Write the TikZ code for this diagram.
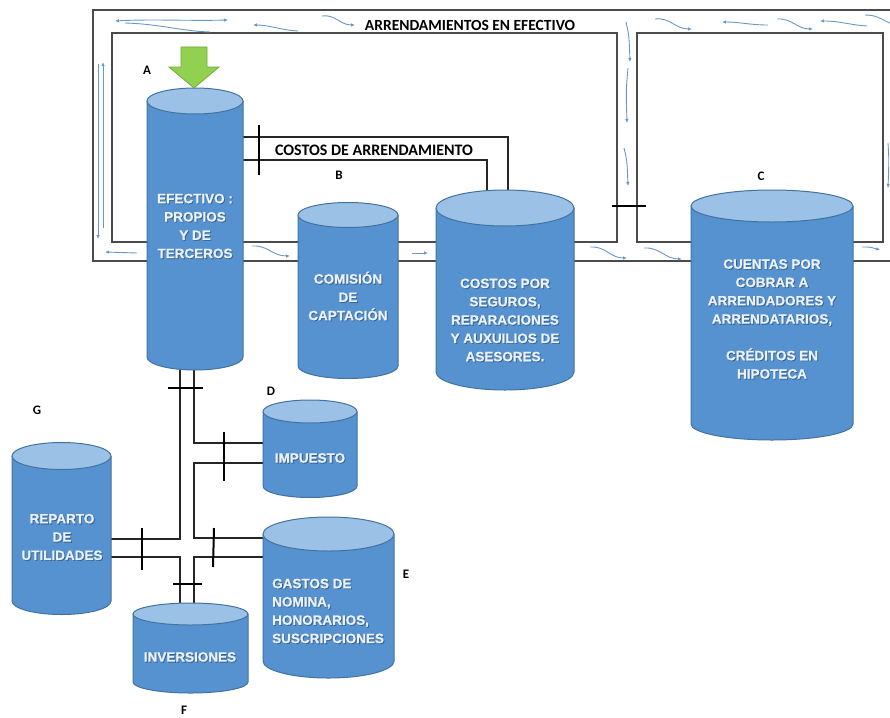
\documentclass[tikz,border=0pt]{standalone}
\usepackage{fontspec}
\newfontfamily\arialbf{Liberation Sans Bold}[FakeBold=0.8]
\newfontfamily\calf{Carlito}[BoldFont={Carlito Bold}]
\usetikzlibrary{arrows.meta}
\definecolor{cylbodyc}{RGB}{86,146,208}
\definecolor{cyltopc}{RGB}{155,194,230}
\definecolor{cyledge}{RGB}{66,114,160}
\definecolor{flowc}{RGB}{105,152,200}
\definecolor{framec}{RGB}{75,75,75}
\definecolor{greenf}{RGB}{146,208,80}
\definecolor{greend}{RGB}{112,170,62}
\definecolor{txtc}{RGB}{235,242,250}
\definecolor{shadc}{RGB}{35,65,105}
\newcommand\mycyl[6]{%
 \pgfmathsetmacro\cyx{(#2+#3)/2}%
 \pgfmathsetmacro\cyr{(#3-#2)/2}%
 \pgfmathsetmacro\cyw{#3-#2}%
 \pgfmathsetmacro\cyh{#5-#4+2*#6}%
 \pgfmathsetmacro\cym{(#4+#5)/2}%
 \fill[cylbodyc] (#2,#4) -- (#2,#5) arc[start angle=180,end angle=360,x radius=\cyr pt,y radius=#6 pt] -- (#3,#4) -- cycle;
 \draw[cyledge,line width=1pt] (#2,#4) -- (#2,#5) arc[start angle=180,end angle=360,x radius=\cyr pt,y radius=#6 pt] -- (#3,#4);
 \filldraw[fill=cyltopc,draw=cyledge,line width=1pt] (\cyx,#4) ellipse[x radius=\cyr pt,y radius=#6 pt];
 \node[inner sep=0pt,outer sep=0pt,minimum width=\cyw pt,minimum height=\cyh pt] (#1) at (\cyx,\cym) {};
}
% text with a soft shadow: name, options, x, y, text
\newcommand\shtext[5]{%
 \node[ctext,#2,text=shadc,opacity=0.55] at (#3+0.9,#4+0.9) {#5};
 \node[ctext,#2] (#1) at (#3,#4) {#5};
}
\begin{document}
\begin{tikzpicture}[x=1pt,y=-1pt,
  frame/.style={draw=framec,line width=1.1pt},
  pipe/.style={draw=black!85,line width=1.2pt},
  tick/.style={draw=black,line width=2pt},
  flow/.style={draw=flowc,line width=0.9pt,-{Latex[length=4pt,width=3.5pt]}},
  flowline/.style={draw=flowc,line width=0.9pt},
  ctext/.style={font=\arialbf\fontsize{13.5}{18.3}\selectfont,text=txtc,align=center,inner sep=0pt},
  lab/.style={font=\calf\bfseries\fontsize{13}{15}\selectfont,inner sep=0pt},
  ttl/.style={font=\calf\bfseries\fontsize{15.5}{17}\selectfont,inner sep=0pt}]
\useasboundingbox (0,0) rectangle (890,717);
\clip (0,0) rectangle (890,717);
% frames
\draw[frame] (895,10) -- (93,10) -- (93,261) -- (895,261);
\draw[frame] (112,33) rectangle (617,242);
\draw[frame] (637,33) rectangle (883,242);
% flow arrows top channel
\draw[flowline,{Latex[length=4pt,width=3.5pt]}-{Latex[length=4pt,width=3.5pt]}] (115,21) .. controls (150,19) and (190,21) .. (228,20);
\draw[flowline] (125,23) .. controls (160,24) and (180,31) .. (210,32);
\draw[flow] (298,31) .. controls (280,30) and (270,25) .. (253,25);
\draw[flow] (322,16) .. controls (335,14) and (340,25) .. (355,25);
\draw[flow] (655,19) .. controls (670,17) and (675,29) .. (692,29);
\draw[flow] (768,25) .. controls (750,25) and (740,22) .. (722,22);
\draw[flow] (777,19) .. controls (792,18) and (797,29) .. (813,29);
\draw[flow] (867,26) .. controls (850,25) and (840,21) .. (820,21);
\draw[flowline] (865,15) .. controls (878,15) and (882,20) .. (892,24);
% vertical channel
\draw[flow] (626,22) .. controls (629,35) .. (630,62);
\draw[flow] (628,68) .. controls (626,90) .. (627,123);
\draw[flow] (624,148) .. controls (627,160) .. (628,186);
% left channel
\draw[flow] (103,228) -- (103,62);
\draw[flow] (98,64) -- (98,239);
\draw[flow] (137,253) -- (105,252);
% bottom channel
\draw[flow] (252,246) .. controls (268,245) and (272,256) .. (290,256);
\draw[flow] (412,253) -- (428,253);
\draw[flow] (590,247) .. controls (606,246) and (610,258) .. (627,258);
\draw[flow] (644,248) .. controls (660,247) and (665,259) .. (682,259);
\draw[flow] (862,247) .. controls (870,247) .. (880,250);
% right channel
\draw[flow] (888,143) .. controls (889,160) .. (888,188);
% invisible anchors for cylinders (drawn for real after the pipes)
\begin{scope}[opacity=0]
\mycyl{A}{147}{243}{101}{357}{13}
\mycyl{Com}{298}{398}{215}{366}{12.5}
\mycyl{Cst}{436}{574}{208}{372}{18}
\mycyl{C}{691}{853}{206}{424}{16}
\mycyl{D}{263}{357}{411.5}{486}{11.5}
\mycyl{E}{263}{394}{534}{661}{17}
\mycyl{G}{12}{111}{456}{601}{13.5}
\mycyl{F}{133}{248}{614}{682}{11}
\end{scope}
% pipes
\draw[pipe] (A.east |- 0,137) -| ([xshift=3pt]Cst.north);
\draw[pipe] (A.east |- 0,160) -| ([xshift=-18pt]Cst.north);
\draw[pipe] ([xshift=-15pt]A.south) |- (G.east |- 0,539);
\draw[pipe] (G.east |- 0,557) -| ([xshift=-10.5pt]F.north);
\draw[pipe] ([xshift=-1pt]A.south) |- (D.west |- 0,443);
\coordinate (j1) at (194,538);
\draw[pipe] (D.west |- 0,463) -| (j1) -- (E.west |- j1);
\draw[pipe] (E.west |- 0,557) -| ([xshift=3.5pt]F.north);
% ticks
\draw[tick] (259,125) -- (259,175);
\draw[tick] (168,388) -- (203,388);
\draw[tick] (224,432) -- (224,481);
\draw[tick] (142,528) -- (142,570);
\draw[tick] (214,528) -- (213,567);
\draw[tick] (173,584) -- (202,584);
\draw[tick] (612,206) -- (646,206);
% cylinders (visible)
\mycyl{A}{147}{243}{101}{357}{13}
\mycyl{Com}{298}{398}{215}{366}{12.5}
\mycyl{Cst}{436}{574}{208}{372}{18}
\mycyl{C}{691}{853}{206}{424}{16}
\mycyl{D}{263}{357}{411.5}{486}{11.5}
\mycyl{E}{263}{394}{534}{661}{17}
\mycyl{G}{12}{111}{456}{601}{13.5}
\mycyl{F}{133}{248}{614}{682}{11}
% green arrow
\filldraw[fill=greenf,draw=greend,line width=0.8pt] (181,47) -- (207,47) -- (207,67) -- (219,67) -- (194,88) -- (169,67) -- (181,67) -- cycle;
% texts
\shtext{tA}{}{195}{226}{EFECTIVO :\\PROPIOS\\Y DE\\TERCEROS}
\shtext{tCom}{}{348}{296}{COMISIÓN\\DE\\CAPTACIÓN}
\shtext{tCst}{}{505}{320}{COSTOS POR\\SEGUROS,\\REPARACIONES\\Y AUXUILIOS DE\\ASESORES.}
\shtext{tC}{}{772}{319}{CUENTAS POR\\COBRAR A\\ARRENDADORES Y\\ARRENDATARIOS,\\[18.3pt]CRÉDITOS EN\\HIPOTECA}
\shtext{tD}{}{310}{458}{IMPUESTO}
\shtext{tE}{align=left,anchor=west}{272}{611}{GASTOS DE\\NOMINA,\\HONORARIOS,\\SUSCRIPCIONES}
\shtext{tG}{}{62}{537}{REPARTO\\DE\\UTILIDADES}
\shtext{tF}{}{190}{657}{INVERSIONES}
% labels
\node[ttl] (t1) at (470,25) {ARRENDAMIENTOS EN EFECTIVO};
\node[ttl,font=\calf\bfseries\fontsize{16}{18}\selectfont] (t2) at (374,150) {COSTOS DE ARRENDAMIENTO};
\node[lab] (lA) at (147,70) {A};
\node[lab] (lB) at (339,175) {B};
\node[lab] (lC) at (761,176) {C};
\node[lab] (lD) at (271,391) {D};
\node[lab] (lE) at (406,574) {E};
\node[lab] (lF) at (184,710) {F};
\node[lab] (lG) at (37,410) {G};
\end{tikzpicture}
\end{document}
